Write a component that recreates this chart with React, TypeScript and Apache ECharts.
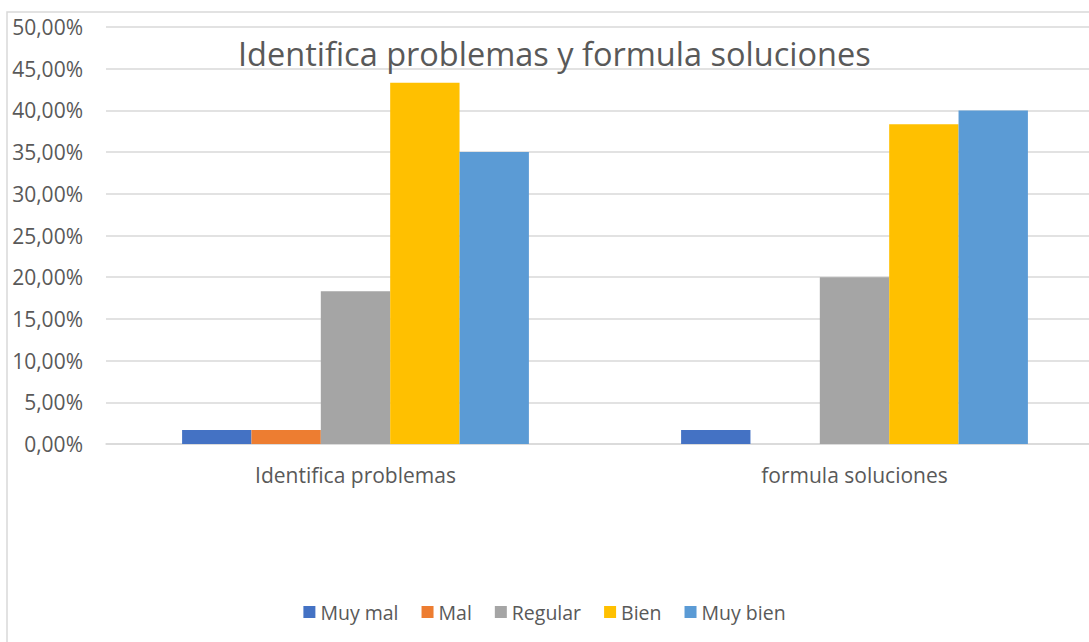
import React, { useEffect, useRef } from "react";
import * as echarts from "echarts";

const categories = ["Identifica problemas", "formula soluciones"];
const seriesNames = ["Muy mal", "Mal", "Regular", "Bien", "Muy bien"];
const muyMal = [0.0167, 0.0167];
const mal = [0.0167, 0];
const regular = [0.1833, 0.2];
const bien = [0.4333, 0.3833];
const muyBien = [0.35, 0.4];
const colors = ["#4472C4", "#ED7D31", "#A5A5A5", "#FFC000", "#5B9BD5"];
const titleText = "Identifica problemas y formula soluciones";

const FONT = "'Open Sans', sans-serif";

export default function App() {
  const ref = useRef<HTMLDivElement>(null);
  useEffect(() => {
    const chart = echarts.init(ref.current!, null, { renderer: "svg" });
    const data = [muyMal, mal, regular, bien, muyBien];
    chart.setOption({
      animation: false,
      backgroundColor: "#ffffff",
      textStyle: { fontFamily: FONT },
      title: {
        text: titleText,
        left: 233,
        top: 32,
        textStyle: { fontSize: 32.5, fontWeight: "normal", color: "#595959", fontFamily: FONT },
      },
      graphic: [
        {
          type: "rect",
          shape: { x: 7, y: 12, width: 1200, height: 1000 },
          style: { fill: "none", stroke: "#d9d9d9", lineWidth: 1.5 },
          silent: true,
          z: -1,
        },
      ],
      legend: {
        bottom: 15,
        left: "center",
        itemWidth: 12,
        itemHeight: 12,
        itemGap: 23,
        icon: "rect",
        textStyle: { fontSize: 19.5, color: "#595959", fontFamily: FONT },
        data: seriesNames,
      },
      grid: {
        left: 106,
        width: 998,
        top: 27,
        bottom: 198,
        containLabel: false,
        outerBoundsMode: "none",
      },
      xAxis: {
        type: "category",
        data: categories,
        axisLine: { show: true, lineStyle: { color: "#d9d9d9", width: 1.5 } },
        axisTick: { show: false },
        axisLabel: { fontSize: 21, color: "#595959", margin: 20, fontFamily: FONT },
      },
      yAxis: {
        type: "value",
        min: 0,
        max: 0.5,
        interval: 0.05,
        axisLine: { show: false },
        axisTick: { show: false },
        splitLine: { lineStyle: { color: "#d9d9d9", width: 1.5 } },
        axisLabel: {
          fontSize: 21,
          color: "#595959",
          margin: 23,
          fontFamily: FONT,
          formatter: (v: number) => (v * 100).toFixed(2).replace(".", ",") + "%",
        },
      },
      series: seriesNames.map((name, i) => ({
        name,
        type: "bar",
        data: data[i],
        barGap: "0%",
        barCategoryGap: "30.5%",
        itemStyle: { color: colors[i] },
      })),
    });
    return () => chart.dispose();
  }, []);
  return (
    <div
      ref={ref}
      style={{ position: "fixed", left: 0, top: 0, width: 1089, height: 642 }}
    />
  );
}
